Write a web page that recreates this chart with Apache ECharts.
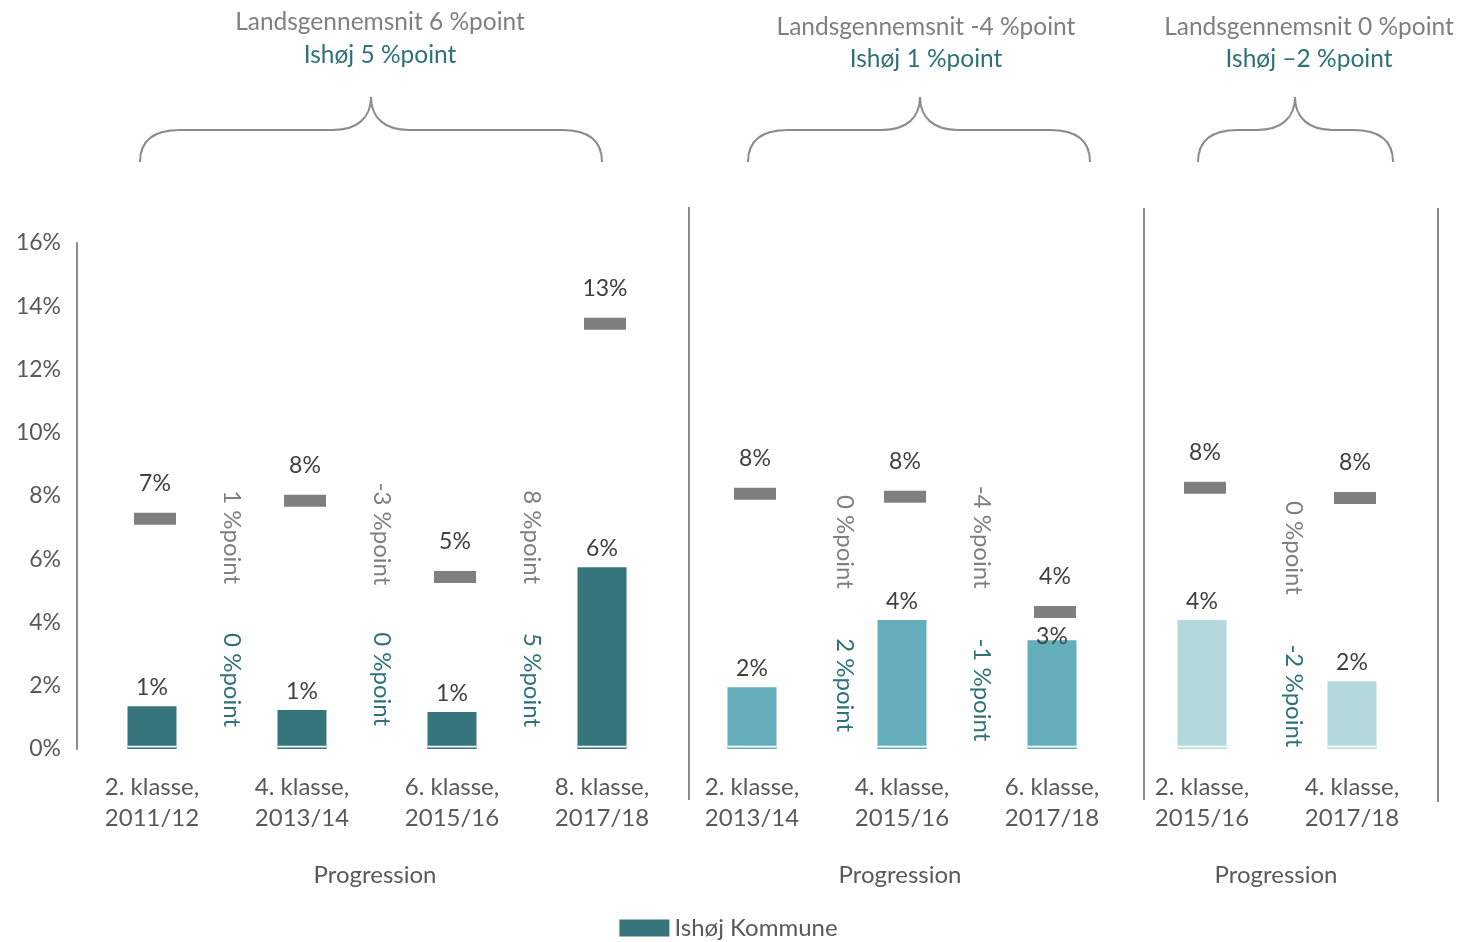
<!DOCTYPE html>
<html>
<head>
<meta charset="utf-8">
<script src="https://cdn.jsdelivr.net/npm/echarts@6/dist/echarts.min.js"></script>
<style>html,body{margin:0;padding:0;background:#fff}#c{width:1457px;height:942px}</style>
</head>
<body>
<div id="c"></div>
<script>
const categories = ['2. klasse,\n2011/12','4. klasse,\n2013/14','6. klasse,\n2015/16','8. klasse,\n2017/18','2. klasse,\n2013/14','4. klasse,\n2015/16','6. klasse,\n2017/18','2. klasse,\n2015/16','4. klasse,\n2017/18'];
const ishojValues = [1.35, 1.23, 1.17, 5.75, 1.95, 4.08, 3.44, 4.08, 2.14];
const ishojLabels = ['1%','1%','1%','6%','2%','4%','3%','4%','2%'];
const landsValues = [7.28, 7.85, 5.44, 13.45, 8.07, 7.98, 4.33, 8.26, 7.94];
const landsLabels = ['7%','8%','5%','13%','8%','8%','4%','8%','8%'];
const barColors = ['#37757C','#37757C','#37757C','#37757C','#64AEBB','#64AEBB','#64AEBB','#B3D8DE','#B3D8DE'];
const yTicks = [0,2,4,6,8,10,12,14,16];
// progression annotations: [category position, value position, text]
const progLands = [[0.53,6.70,'1 %point'],[1.53,6.80,'-3 %point'],[2.53,6.70,'8 %point'],[4.62,6.55,'0 %point'],[5.53,6.70,'-4 %point'],[7.61,6.36,'0 %point']];
const progIshoj = [[0.53,2.18,'0 %point'],[1.53,2.21,'0 %point'],[2.53,2.18,'5 %point'],[4.62,2.02,'2 %point'],[5.53,1.87,'-1 %point'],[7.61,1.68,'-2 %point']];
const groupTitles = [
  {x:380, y1:22, y2:55, l1:'Landsgennemsnit 6 %point', l2:'Ishøj 5 %point'},
  {x:926, y1:27, y2:59, l1:'Landsgennemsnit -4 %point', l2:'Ishøj 1 %point'},
  {x:1309, y1:27, y2:59, l1:'Landsgennemsnit 0 %point', l2:'Ishøj –2 %point'}
];
const progressionLabels = [{x:375,t:'Progression'},{x:900,t:'Progression'},{x:1276,t:'Progression'}];

const FONT = 'Lato, "Open Sans", sans-serif';
const TXT = '#595959', TEAL = '#2F7179', LINE = '#8C8C8C';
const chart = echarts.init(document.getElementById('c'));

const option = {
  animation: false,
  textStyle: {fontFamily: FONT},
  grid: {left: 77, right: 30, top: 243, bottom: 193, containLabel: false},
  legend: {
    data: ['Ishøj Kommune'], bottom: -3, left: 'center', itemWidth: 50, itemHeight: 17, itemGap: 10,
    textStyle: {fontSize: 24, color: TXT, fontFamily: FONT}, icon: 'rect'
  },
  xAxis: {
    type: 'category', data: categories,
    axisLine: {show: false}, axisTick: {show: false},
    axisLabel: {fontSize: 24, color: TXT, lineHeight: 31, margin: 23, fontFamily: FONT, interval: 0}
  },
  yAxis: {
    type: 'value', min: 0, max: 16, interval: 2,
    axisLine: {show: true, lineStyle: {color: LINE, width: 2}},
    axisTick: {show: false}, splitLine: {show: false},
    axisLabel: {fontSize: 23, color: TXT, margin: 16, fontFamily: FONT, formatter: v => yTicks.includes(v) ? v + '%' : ''}
  },
  series: [
    {
      name: 'Ishøj Kommune', type: 'bar', barWidth: 49, barGap: '-100%', z: 2,
      itemStyle: {color: '#37757C'},
      data: ishojValues.map((v, i) => {
        const d = {value: v, itemStyle: {color: barColors[i]}};
        if (i === 6) d.label = {distance: -8};
        return d;
      }),
      label: {show: true, position: 'top', distance: 7, fontSize: 23, color: '#404040', fontFamily: FONT,
        formatter: p => ishojLabels[p.dataIndex]}
    },
    {
      name: 'gap', type: 'bar', barWidth: 49, barGap: '-100%', z: 3, silent: true,
      data: ishojValues.map(() => ({value: 0.1, itemStyle: {color: '#ffffff'}}))
    },
    {
      name: 'base', type: 'bar', barWidth: 49, barGap: '-100%', z: 4, silent: true,
      data: ishojValues.map((v, i) => ({value: 0.045, itemStyle: {color: barColors[i]}}))
    },
    {
      name: 'Landsgennemsnit', type: 'scatter', symbol: 'rect', symbolSize: [42, 12], symbolOffset: [3, 0], z: 1,
      itemStyle: {color: '#7F7F7F', opacity: 1},
      data: landsValues,
      label: {show: true, position: 'top', distance: 18, fontSize: 23, color: '#404040', fontFamily: FONT,
        formatter: p => landsLabels[p.dataIndex]}
    }
  ]
};
chart.setOption(option);

function catX(pos) {
  const i = Math.floor(pos), f = pos - i;
  const a = chart.convertToPixel({xAxisIndex: 0}, i);
  const b = chart.convertToPixel({xAxisIndex: 0}, i + 1);
  return a + (b - a) * f;
}
function valY(v) { return chart.convertToPixel({yAxisIndex: 0}, v); }

const g = [];
const bs = {stroke: LINE, lineWidth: 2, fill: null};
function bez(x1, y1, c1x, c1y, c2x, c2y, x2, y2) {
  g.push({type: 'bezierCurve', silent: true, shape: {x1, y1, cpx1: c1x, cpy1: c1y, cpx2: c2x, cpy2: c2y, x2, y2}, style: bs});
}
function ln(x1, y1, x2, y2) {
  g.push({type: 'line', silent: true, shape: {x1, y1, x2, y2}, style: {stroke: LINE, lineWidth: 2}});
}
[[140,371,602],[748,920,1090],[1198,1295,1393]].forEach(b => {
  const [x1, tip, x2] = b;
  bez(x1, 162, x1, 142, x1 + 12, 130, x1 + 40, 130);
  ln(x1 + 40, 130, tip - 38, 130);
  bez(tip - 38, 130, tip - 14, 130, tip, 118, tip, 97);
  bez(tip, 97, tip, 118, tip + 14, 130, tip + 38, 130);
  ln(tip + 38, 130, x2 - 40, 130);
  bez(x2 - 40, 130, x2 - 12, 130, x2, 142, x2, 162);
});
[[689,207,800],[1144,208,800],[1438,208,802]].forEach(s => ln(s[0], s[1], s[0], s[2]));
groupTitles.forEach(t => {
  g.push({type: 'text', x: t.x, y: t.y1, style: {text: t.l1, fontSize: 24.5, fill: '#7F7F7F', fontFamily: FONT, align: 'center', verticalAlign: 'middle'}});
  g.push({type: 'text', x: t.x, y: t.y2, style: {text: t.l2, fontSize: 24.5, fill: TEAL, fontFamily: FONT, align: 'center', verticalAlign: 'middle'}});
});
progressionLabels.forEach(p => {
  g.push({type: 'text', x: p.x, y: 875, style: {text: p.t, fontSize: 24, fill: TXT, fontFamily: FONT, align: 'center', verticalAlign: 'middle'}});
});
progLands.forEach(p => {
  g.push({type: 'text', x: catX(p[0]), y: valY(p[1]), rotation: -Math.PI / 2,
    style: {text: p[2], fontSize: 24, fill: '#7F7F7F', fontFamily: FONT, align: 'center', verticalAlign: 'middle'}});
});
progIshoj.forEach(p => {
  g.push({type: 'text', x: catX(p[0]), y: valY(p[1]), rotation: -Math.PI / 2,
    style: {text: p[2], fontSize: 24, fill: TEAL, fontFamily: FONT, align: 'center', verticalAlign: 'middle'}});
});
chart.setOption({graphic: g});
</script>
</body>
</html>
